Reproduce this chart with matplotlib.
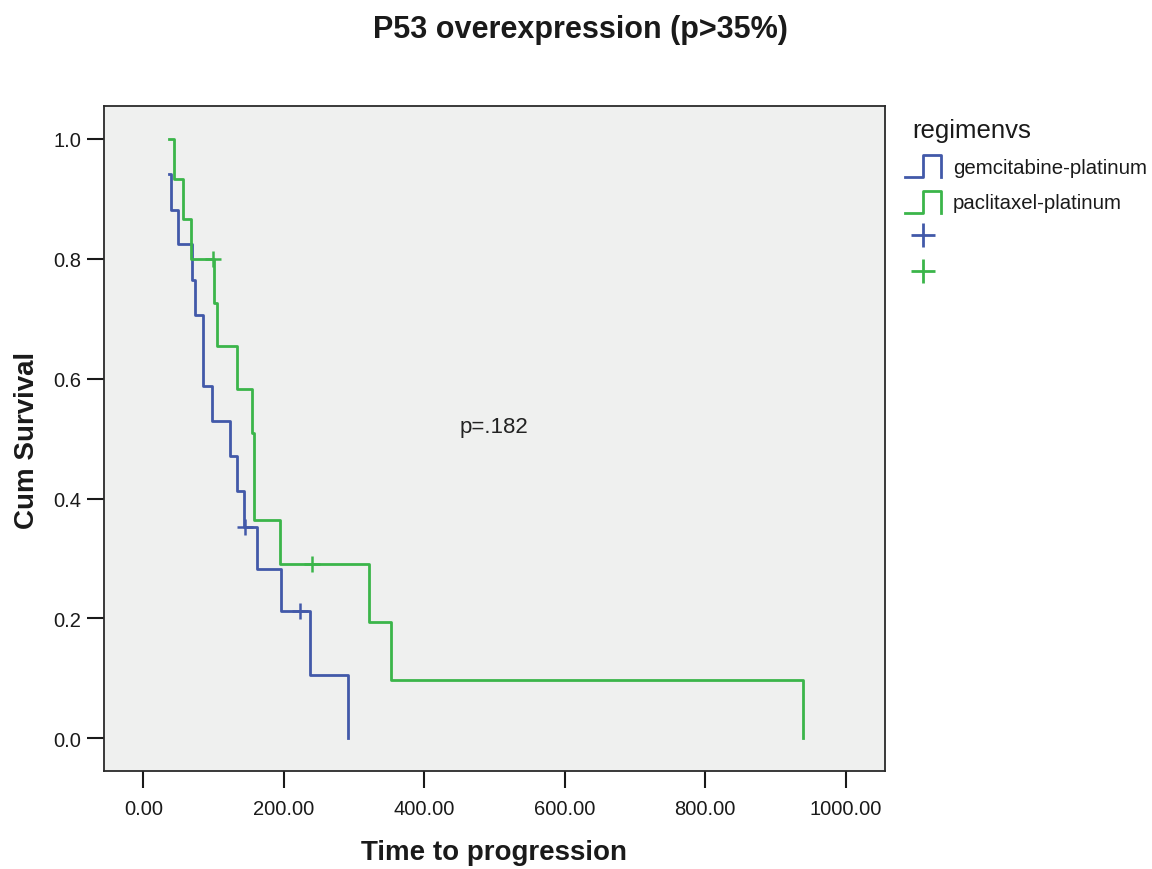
import matplotlib
matplotlib.use("Agg")
import matplotlib.pyplot as plt
from matplotlib.lines import Line2D
from matplotlib.legend_handler import HandlerBase

plt.rcParams['font.family'] = ['Liberation Sans', 'DejaVu Sans']

# ---- data ----
gem_time = [36, 40, 49, 70, 74, 85, 98, 123, 133, 143, 162, 196, 237, 292]
gem_surv = [0.941, 0.882, 0.824, 0.765, 0.706, 0.588, 0.529, 0.471, 0.412, 0.353, 0.282, 0.212, 0.106, 0.0]
gem_cens_time = [145, 223]
gem_cens_surv = [0.353, 0.212]

pac_time = [36, 43, 56, 68, 100, 105, 134, 155, 157, 158, 194, 321, 353, 939]
pac_surv = [1.0, 0.933, 0.867, 0.800, 0.727, 0.655, 0.582, 0.509, 0.436, 0.364, 0.291, 0.194, 0.097, 0.0]
pac_cens_time = [99, 240]
pac_cens_surv = [0.800, 0.291]

x_ticks = [0, 200, 400, 600, 800, 1000]
y_ticks = [0.0, 0.2, 0.4, 0.6, 0.8, 1.0]
group_labels = ["gemcitabine-platinum", "paclitaxel-platinum"]
legend_title = "regimenvs"
p_text = "p=.182"

BLUE = "#4259a9"
GREEN = "#3bb54a"
LW = 2.0

fig = plt.figure(figsize=(11.52, 8.7), dpi=100)
ax = fig.add_axes([104/1152, 1-772/870, (885-104)/1152, (772-107)/870])
ax.set_facecolor("#eff0ef")

ax.step(gem_time, gem_surv, where='post', color=BLUE, lw=LW)
ax.step(pac_time, pac_surv, where='post', color=GREEN, lw=LW)
ax.plot(gem_cens_time, gem_cens_surv, linestyle='none', marker='+', color=BLUE, ms=11, mew=1.8)
ax.plot(pac_cens_time, pac_cens_surv, linestyle='none', marker='+', color=GREEN, ms=11, mew=1.8)

ax.set_xlim(-56, 1056)
ax.set_ylim(-0.0546, 1.055)
ax.set_xticks(x_ticks)
ax.set_xticklabels([f"{v:.2f}" for v in x_ticks])
ax.set_yticks(y_ticks)
ax.set_yticklabels([f"{v:.1f}" for v in y_ticks])
ax.tick_params(direction='out', length=12.5, width=1.5, colors='#1a1a1a', labelsize=14.5, pad=4)
ax.tick_params(axis='x', pad=8)
for s in ax.spines.values():
    s.set_color('#2a2a2a')
    s.set_linewidth(1.3)

ax.text(450, 0.52, p_text, fontsize=16, color='#222222', va='center', ha='left')

fig.text(0.504, 1-30/870, "P53 overexpression (p>35%)", ha='center', va='center',
         fontsize=22, fontweight='bold', color='#1a1a1a')
fig.text(27/1152, 1-440/870, "Cum Survival", rotation=90, ha='center', va='center',
         fontsize=20, fontweight='bold', color='#1a1a1a')
fig.text(494/1152, 1-853/870, "Time to progression", ha='center', va='center',
         fontsize=20, fontweight='bold', color='#1a1a1a')
fig.text(912/1152, 1-131/870, legend_title, ha='left', va='center',
         fontsize=18.5, color='#1a1a1a')


class StepHandler(HandlerBase):
    def create_artists(self, legend, orig_handle, xdescent, ydescent, width, height, fontsize, trans):
        x0, y0 = -xdescent, -ydescent
        xs = [x0, x0 + 0.5*width, x0 + 0.5*width, x0 + width, x0 + width]
        ys = [y0, y0, y0 + height, y0 + height, y0]
        ln = Line2D(xs, ys, color=orig_handle.get_color(), lw=orig_handle.get_linewidth(),
                    transform=trans)
        return [ln]


h1 = Line2D([], [], color=BLUE, lw=LW)
h2 = Line2D([], [], color=GREEN, lw=LW)
h3 = Line2D([], [], color=BLUE, marker='+', linestyle='none', ms=17, mew=2.0)
h4 = Line2D([], [], color=GREEN, marker='+', linestyle='none', ms=17, mew=2.0)

leg = fig.legend([h1, h2, h3, h4], [group_labels[0], group_labels[1], " ", " "],
                 handler_map={h1: StepHandler(), h2: StepHandler()},
                 loc='upper left', bbox_to_anchor=(905/1152, 1-156/870),
                 frameon=False, fontsize=14.7, handlelength=1.75, handleheight=1.3,
                 handletextpad=0.6, labelspacing=0.65, borderpad=0, borderaxespad=0)
for t in leg.get_texts():
    t.set_color('#1a1a1a')

fig.savefig("out.png", dpi=100, facecolor='white')
